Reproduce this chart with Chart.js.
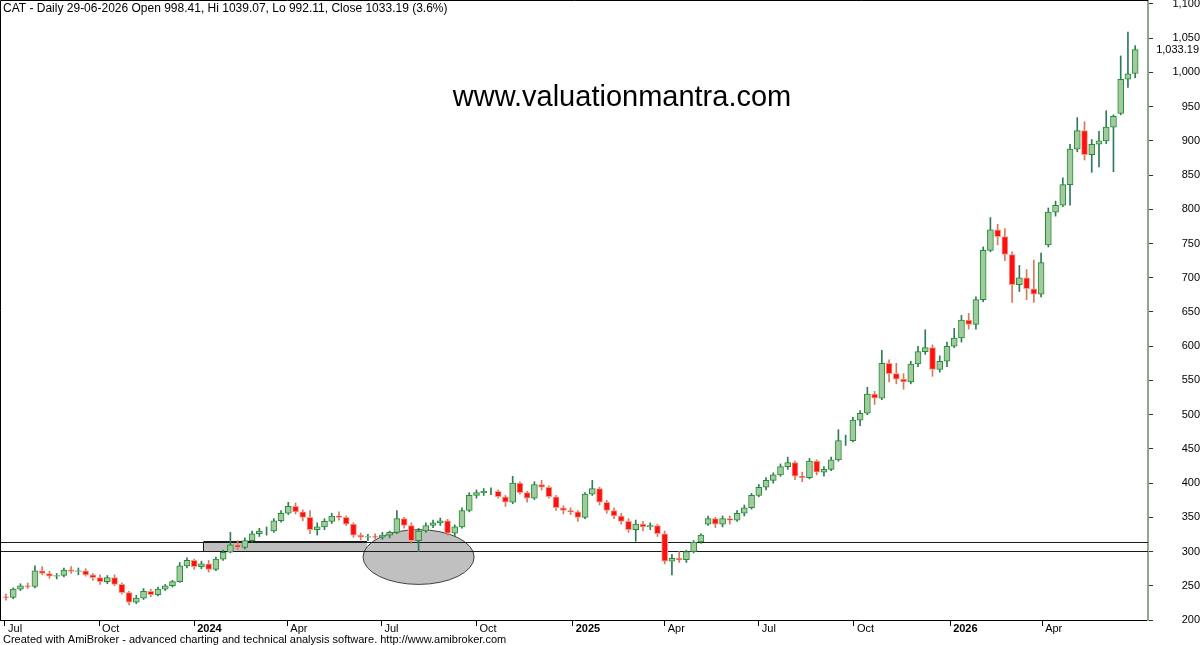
<!DOCTYPE html>
<html>
<head>
<meta charset="utf-8">
<title>CAT Daily</title>
<script src="https://cdn.jsdelivr.net/npm/chart.js@4.4.1/dist/chart.umd.min.js"></script>
<style>
  html, body { margin: 0; padding: 0; background: #fff; }
  #wrap { width: 1200px; height: 645px; }
</style>
</head>
<body>
<div id="wrap"><canvas id="catChart" width="1200" height="645"></canvas></div>
<script>
// Weekly candles (week starting 2023-07-03 ... 2026-06-29)
const opens = [
  234, 233, 245, 250, 249, 272, 268, 264, 265, 273, 271, 272, 266, 262, 256, 262, 252, 240, 226, 232,
  242, 237, 245, 250, 256, 279, 287, 278, 282, 274, 289, 299, 310, 306, 316, 326, 330, 330, 345, 356,
  366, 358, 350, 332, 336, 344, 352, 350, 340, 324, 321, 322, 321, 324, 328, 348, 338, 316, 330, 338,
  342, 345, 327, 336, 360, 382, 386, 388, 388, 380, 372, 400, 386, 378, 398, 394, 380, 364, 360, 358,
  350, 384, 392, 372, 360, 352, 344, 332, 340, 336, 338, 326, 286, 290, 288, 300, 314, 340, 348, 340,
  348, 346, 356, 364, 382, 394, 404, 412, 424, 430, 410, 408, 432, 416, 420, 434, 462, 462, 492, 502,
  530, 524, 575, 560, 552, 548, 574, 592, 598, 566, 578, 600, 612, 638, 632, 668, 740, 770, 760, 734,
  690, 700, 684, 676, 748, 796, 806, 836, 888, 915, 880, 895, 900, 920, 940, 990, 998.41
];
const highs = [
  238, 247, 253, 254, 279, 278, 271, 268, 276, 278, 276, 275, 268, 266, 265, 266, 254, 242, 236, 246,
  245, 248, 252, 258, 284, 291, 289, 286, 287, 292, 302, 328, 316, 320, 330, 334, 336, 348, 360, 372,
  371, 361, 360, 342, 348, 356, 358, 352, 342, 327, 325, 326, 328, 330, 360, 350, 342, 334, 342, 346,
  349, 347, 339, 364, 386, 390, 392, 393, 390, 382, 410, 402, 388, 402, 404, 396, 382, 367, 364, 360,
  386, 404, 394, 375, 364, 356, 348, 346, 344, 342, 340, 330, 296, 300, 302, 316, 326, 352, 350, 352,
  352, 360, 368, 385, 398, 408, 415, 428, 438, 432, 416, 436, 434, 424, 438, 478, 470, 496, 506, 540,
  534, 594, 580, 575, 560, 578, 600, 624, 602, 586, 606, 626, 645, 648, 672, 745, 788, 778, 772, 738,
  718, 712, 726, 736, 802, 812, 846, 895, 934, 928, 902, 914, 944, 938, 1024, 1059, 1039.07
];
const lows = [
  229, 231, 243, 246, 247, 266, 261, 260, 263, 268, 266, 264, 258, 252, 253, 250, 238, 222, 224, 230,
  234, 235, 243, 248, 255, 276, 274, 275, 270, 272, 287, 298, 303, 304, 314, 322, 324, 328, 343, 354,
  355, 345, 326, 324, 332, 341, 346, 338, 321, 317, 316, 318, 318, 320, 326, 334, 312, 300, 328, 335,
  338, 324, 322, 334, 358, 378, 382, 383, 378, 366, 370, 384, 372, 376, 390, 378, 360, 355, 354, 344,
  348, 382, 368, 356, 348, 340, 328, 315, 330, 332, 322, 282, 266, 284, 284, 298, 312, 338, 335, 336,
  340, 344, 352, 362, 380, 390, 400, 410, 420, 405, 402, 406, 412, 410, 418, 432, 455, 460, 484, 500,
  515, 522, 548, 545, 537, 545, 570, 588, 556, 562, 570, 598, 606, 625, 625, 665, 738, 748, 725, 664,
  680, 668, 664, 672, 745, 790, 804, 806, 884, 872, 854, 862, 896, 855, 938, 978, 992.11
];
const closes = [
  233, 245, 250, 249, 272, 268, 264, 265, 273, 271, 272, 266, 262, 256, 262, 252, 240, 226, 232, 242,
  237, 245, 250, 256, 279, 287, 278, 282, 274, 289, 299, 310, 306, 316, 326, 330, 330, 345, 356, 366,
  358, 350, 332, 336, 344, 352, 350, 340, 324, 321, 322, 321, 324, 328, 348, 338, 316, 330, 338, 342,
  345, 327, 336, 360, 382, 386, 388, 388, 380, 372, 400, 386, 378, 398, 394, 380, 364, 360, 358, 350,
  384, 392, 372, 360, 352, 344, 332, 340, 336, 338, 326, 286, 290, 288, 300, 314, 324, 348, 340, 348,
  346, 356, 364, 382, 394, 404, 412, 424, 430, 410, 408, 432, 416, 420, 434, 462, 462, 492, 502, 530,
  524, 575, 560, 552, 548, 574, 592, 598, 566, 578, 600, 612, 638, 632, 668, 740, 770, 760, 734, 690,
  700, 684, 676, 722, 796, 806, 836, 888, 915, 880, 895, 900, 920, 936, 990, 998, 1033.19
];

// x axis: days counted from 2023-07-03, first trading day of each labelled month
const tickDays = [0, 91, 183, 273, 364, 456, 549, 638, 729, 821, 914, 1003];
const tickLabels = ['Jul', 'Oct', '2024', 'Apr', 'Jul', 'Oct', '2025', 'Apr', 'Jul', 'Oct', '2026', 'Apr'];
const priceTicks = [200, 250, 300, 350, 400, 450, 500, 550, 600, 650, 700, 750, 800, 850, 900, 950, 1000, 1050, 1100];

// hand-drawn annotations (in days / price)
const levelLines = [301, 314];
const zoneBox = { fromDay: 191.5, toDay: 350, low: 301, high: 314 };
const zoneEllipse = { day: 400, price: 292, halfDays: 53.7, halfPrice: 40 };

const headerText = 'CAT - Daily 29-06-2026 Open 998.41, Hi 1039.07, Lo 992.11, Close 1033.19 (3.6%)';
const watermarkText = 'www.valuationmantra.com';
const footerText = 'Created with AmiBroker - advanced charting and technical analysis software. http://www.amibroker.com';

const FONT = '"Liberation Sans", Arial, sans-serif';
Chart.defaults.font.family = FONT;

// bar i sits in the middle of its week
const weekDay = i => i * 7 + 1;
const isUp = i => closes[i] >= opens[i];

const wickData = closes.map((c, i) => ({ x: weekDay(i), y: [lows[i], highs[i]] }));
const bodyData = closes.map((c, i) => ({ x: weekDay(i), y: [opens[i], c] }));

const wickColors = closes.map((c, i) => isUp(i) ? '#2f7a5a' : '#d8785a');
const bodyFill = closes.map((c, i) => isUp(i) ? '#a3c9a0' : '#ff1010');
const bodyEdge = closes.map((c, i) => isUp(i) ? '#1f8f2f' : '#eea08a');

const overlayPlugin = {
  id: 'overlay',
  beforeDatasetsDraw(chart) {
    const { ctx, chartArea, scales: { x, y } } = chart;
    ctx.save();
    // grey box between the two levels
    const bx1 = Math.round(x.getPixelForValue(zoneBox.fromDay)) + 0.5;
    const bx2 = Math.round(x.getPixelForValue(zoneBox.toDay));
    const byTop = Math.round(y.getPixelForValue(zoneBox.high)) + 0.5;
    const byBot = Math.round(y.getPixelForValue(zoneBox.low)) + 0.5;
    ctx.fillStyle = '#c0c0c0';
    ctx.fillRect(bx1, byTop, bx2 - bx1, byBot - byTop);

    // ellipse
    const cx = x.getPixelForValue(zoneEllipse.day);
    const cy = y.getPixelForValue(zoneEllipse.price);
    const rx = x.getPixelForValue(zoneEllipse.day + zoneEllipse.halfDays) - cx;
    const ry = cy - y.getPixelForValue(zoneEllipse.price + zoneEllipse.halfPrice);
    ctx.beginPath();
    ctx.ellipse(cx, cy, rx, ry, 0, 0, Math.PI * 2);
    ctx.fillStyle = '#c0c0c0';
    ctx.fill();
    ctx.strokeStyle = '#404040';
    ctx.lineWidth = 1;
    ctx.stroke();

    // horizontal levels
    ctx.strokeStyle = '#1a1a1a';
    levelLines.forEach(v => {
      const py = Math.round(y.getPixelForValue(v)) + 0.5;
      ctx.beginPath();
      ctx.moveTo(chartArea.left, py);
      ctx.lineTo(chartArea.right, py);
      ctx.stroke();
    });
    // box edges
    ctx.lineWidth = 2;
    ctx.beginPath();
    ctx.moveTo(bx1, byTop - 0.5);
    ctx.lineTo(bx2, byTop - 0.5);
    ctx.stroke();
    ctx.lineWidth = 1;
    ctx.beginPath();
    ctx.moveTo(bx1, byTop);
    ctx.lineTo(bx1, byBot);
    ctx.stroke();
    ctx.restore();
  },
  afterDraw(chart) {
    const { ctx, chartArea, scales: { y } } = chart;
    ctx.save();
    // frame left / top
    ctx.strokeStyle = '#000';
    ctx.lineWidth = 1;
    ctx.beginPath();
    ctx.moveTo(chartArea.left + 0.5, chartArea.bottom);
    ctx.lineTo(chartArea.left + 0.5, chartArea.top + 0.5);
    ctx.lineTo(chartArea.right, chartArea.top + 0.5);
    ctx.stroke();

    ctx.fillStyle = '#000';
    ctx.textBaseline = 'alphabetic';
    ctx.textAlign = 'left';
    ctx.font = '12px ' + FONT;
    ctx.fillText(headerText, 3, 12);

    ctx.font = '11px ' + FONT;
    ctx.fillText(footerText, 3, 643);

    ctx.textAlign = 'center';
    ctx.font = '29px ' + FONT;
    ctx.fillText(watermarkText, 622, 106);

    // last close on the price axis
    ctx.textAlign = 'right';
    ctx.textBaseline = 'middle';
    ctx.font = '11px ' + FONT;
    const last = closes[closes.length - 1];
    ctx.fillText(last.toLocaleString('en-US', { minimumFractionDigits: 2 }), 1199, y.getPixelForValue(last));
    ctx.restore();
  }
};

const ctx = document.getElementById('catChart').getContext('2d');
new Chart(ctx, {
  type: 'bar',
  data: {
    datasets: [
      {
        label: 'wick',
        data: wickData,
        backgroundColor: wickColors,
        borderWidth: 0,
        barThickness: 1,
        grouped: false,
        order: 2
      },
      {
        label: 'body',
        data: bodyData,
        backgroundColor: bodyFill,
        borderColor: bodyEdge,
        borderWidth: 1,
        borderSkipped: false,
        barThickness: 6,
        grouped: false,
        order: 1
      }
    ]
  },
  options: {
    responsive: false,
    devicePixelRatio: 1,
    animation: false,
    events: [],
    layout: { padding: 0 },
    plugins: {
      legend: { display: false },
      tooltip: { enabled: false },
      title: { display: false }
    },
    scales: {
      x: {
        type: 'linear',
        position: 'bottom',
        offset: false,
        min: -4.8,
        max: 1105.4,
        afterBuildTicks: scale => { scale.ticks = tickDays.map(v => ({ value: v })); },
        afterFit: scale => {
          scale.height = 25;
          scale.paddingLeft = 0;
          scale.paddingRight = 0;
        },
        grid: { offset: false, drawOnChartArea: false, drawTicks: true, tickLength: 6, color: '#000' },
        border: { display: true, color: '#000', width: 1 },
        ticks: {
          autoSkip: false,
          maxRotation: 0,
          align: 'start',
          padding: -4,
          color: '#000',
          font: c => ({ size: 11, weight: /^\d{4}$/.test(tickLabels[c.index]) ? 'bold' : 'normal' }),
          callback: (value, index) => ' ' + tickLabels[index]
        }
      },
      y: {
        type: 'linear',
        position: 'right',
        min: 200,
        max: 1105.8,
        afterBuildTicks: scale => { scale.ticks = priceTicks.map(v => ({ value: v })); },
        afterFit: scale => {
          scale.width = 52;
          scale.paddingTop = 0;
          scale.paddingBottom = 0;
        },
        grid: { drawOnChartArea: false, drawTicks: true, tickLength: 5, color: '#333' },
        border: { display: true, color: '#8aa88a', width: 2 },
        ticks: {
          crossAlign: 'far',
          padding: 16,
          color: '#000',
          font: { size: 11 },
          callback: v => v.toLocaleString('en-US')
        }
      }
    }
  },
  plugins: [overlayPlugin]
});
</script>
</body>
</html>
